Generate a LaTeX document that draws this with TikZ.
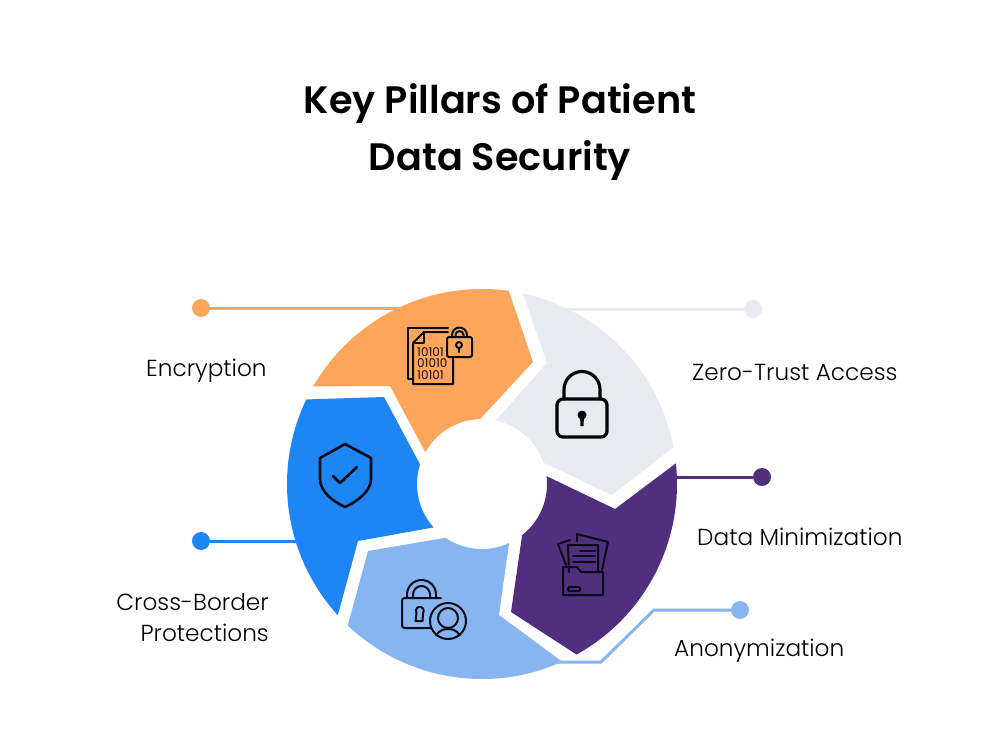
\documentclass[tikz,border=0pt]{standalone}
\usepackage{fontspec}
\usetikzlibrary{calc}
\setmainfont{Poppins Light}
\newfontfamily\titlefont{Poppins SemiBold}
\newfontfamily\iconfont{Poppins}
\definecolor{cOrange}{HTML}{FDA65B}
\definecolor{cBlue}{HTML}{1E85F5}
\definecolor{cSky}{HTML}{86B5EF}
\definecolor{cPurple}{HTML}{50307E}
\definecolor{cGrey}{HTML}{E8EAF1}
\definecolor{cInk}{HTML}{0A0A14}
\newcommand{\Rim}[1]{($(C)+(#1:195pt)$)}
\newcommand{\Hub}[1]{($(C)+(#1:65pt)$)}
\tikzset{
  lbl/.style={font=\fontsize{23.2}{26}\selectfont, text=black, inner sep=0pt},
  dotnode/.style={circle, minimum size=18pt, inner sep=0pt},
  leader/.style={line width=3pt},
  icon/.style={draw=cInk, line width=2pt, line join=round, line cap=round},
  bigicon/.style={draw=black, line width=3.2pt, line join=round, line cap=round},
  bits/.style={font=\fontsize{12}{12}\selectfont\iconfont, text=cInk, inner sep=0pt}
}
\begin{document}
\begin{tikzpicture}[x=1pt,y=-1pt]
\useasboundingbox (0,0) rectangle (1000,750);
\fill[white] (0,0) rectangle (1000,750);
\coordinate (C) at (482,484);
% title
\node[font=\fontsize{38.2}{57}\selectfont\titlefont, align=center, inner sep=0pt, text=black] (title) at (500,132) {Key Pillars of Patient\\Data Security};
% dots and anchors
\node[dotnode, fill=cOrange] (dotA) at (201,308) {};
\node[dotnode, fill=cGrey] (dotB) at (753,309) {};
\node[dotnode, fill=cPurple] (dotC) at (762,477) {};
\node[dotnode, fill=cSky] (dotD) at (740,610) {};
\node[dotnode, fill=cBlue] (dotE) at (201,541) {};
\coordinate (endA) at (400,308);
\coordinate (endB) at (560,309);
\coordinate (endC) at (670,477);
\coordinate (endD) at (555,662);
\coordinate (endE) at (300,541);
\draw[leader, cOrange] (dotA) -- (endA);
\draw[leader, cGrey] (dotB) -- (endB);
\draw[leader, cPurple] (dotC) -- (endC);
\draw[leader, cSky] (dotD) -- (654,610) -- (601,662) -- (endD);
\draw[leader, cBlue] (dotE) -- (endE);
% wedges
\fill[cOrange] \Rim{150.0} arc[start angle=150.0,end angle=82.1,radius=195pt]
  -- (533,362) -- \Hub{91.7} arc[start angle=91.7,end angle=150.7,radius=65pt] -- (390,386) -- cycle;
\fill[cBlue] \Rim{154.3} arc[start angle=154.3,end angle=222.3,radius=195pt]
  -- (358,541) -- \Hub{221.9} arc[start angle=221.9,end angle=162.4,radius=65pt] -- (384,397) -- cycle;
\fill[cSky] \Rim{226.5} arc[start angle=226.5,end angle=294.3,radius=195pt]
  -- (499,615) -- \Hub{294.6} arc[start angle=294.6,end angle=235.8,radius=65pt] -- (368,551) -- cycle;
\fill[cPurple] \Rim{6.1} arc[start angle=6.1,end angle=-61,radius=195pt]
  -- (511,612) -- \Hub{-51.9} arc[start angle=-51.9,end angle=7,radius=65pt] -- (615,509) -- cycle;
\fill[cGrey] \Rim{77.9} arc[start angle=77.9,end angle=10.9,radius=195pt]
  -- (612,495) -- \Hub{19.2} arc[start angle=19.2,end angle=77.8,radius=65pt] -- (547,363) -- cycle;
% labels
\node[lbl, anchor=west] (lEnc) at (146,371) {Encryption};
\node[lbl, anchor=west] (lZero) at (692,372) {Zero-Trust Access};
\node[lbl, anchor=west] (lMin) at (697,537) {Data Minimization};
\node[lbl, anchor=west] (lAno) at (674,651) {Anonymization};
\node[lbl, anchor=east, align=right, font=\fontsize{23.2}{31}\selectfont] (lCross) at (269,617) {Cross-Border\\Protections};
% orange icon: binary file with lock
\draw[icon] (448,328) -- (408,328) -- (408,379) -- (413,379);
\draw[icon] (448,332) -- (424,332) -- (413,343) -- (413,384) -- (453,384) -- (453,357);
\draw[icon] (424,332) -- (424,343) -- (413,343);
\draw[icon, rounded corners=2pt] (447,337) rectangle (472,357);
\draw[icon] (452,337) -- (452,335) arc[start angle=180,end angle=0,radius=7.5pt] -- (467,337);
\draw[icon] (455.5,337) -- (455.5,335) arc[start angle=180,end angle=0,radius=4pt] -- (463.5,337);
\draw[icon] (459,345) circle[radius=3pt];
\draw[icon] (459,348) -- (459,352);
\node[bits, anchor=west] (bitsA) at (417,352) {10101};
\node[bits, anchor=west] (bitsB) at (417,363.5) {01010};
\node[bits, anchor=west] (bitsC) at (417,375) {10101};
% grey icon: padlock
\draw[bigicon, rounded corners=6pt] (557,399) rectangle (607,437);
\draw[bigicon] (564,399) -- (564,389.5) arc[start angle=180,end angle=0,radius=18pt] -- (600,399);
\fill[black] (582,415) circle[radius=4.5pt];
\fill[black] (580,416) -- (584,416) -- (583.5,426) -- (580.5,426) -- cycle;
% blue icon: shield
\draw[icon, line width=2.6pt] (345,444) -- (371,458) -- (371,479) .. controls (371,491) and (358,501) .. (345,507) .. controls (332,501) and (320,491) .. (320,479) -- (320,458) -- cycle;
\draw[icon, line width=2.6pt] (333,476) -- (340,483) -- (357,467);
% sky icon: lock and person
\draw[icon] (441,598) -- (405,598) .. controls (403,598) and (402,599) .. (402,601) -- (402,625) .. controls (402,627) and (403,628) .. (405,628) -- (431,628);
\draw[icon] (407,598) -- (407,594.5) arc[start angle=180,end angle=0,radius=14.5pt] -- (436,598);
\draw[icon] (413,598) -- (413,594.5) arc[start angle=180,end angle=0,radius=8.5pt] -- (430,598);
\draw[icon] (416.5,613) arc[start angle=215,end angle=-35,radius=4pt] -- (422.5,621) -- (415.5,621) -- cycle;
\draw[icon] (448,621) circle[radius=18pt];
\draw[icon] (448,618) circle[radius=10pt];
\draw[icon] (436,635) .. controls (440,630) and (444,629) .. (448,629) .. controls (452,629) and (456,630) .. (460,635);
% purple icon: folder with papers
\draw[icon] (566,565) -- (558,544) -- (570,540);
\draw[icon] (577,541) -- (577,534) -- (608,542) -- (602,570);
\draw[icon] (569,572) -- (568,545) -- (598,545) -- (598,571);
\draw[icon] (580,551) -- (595,551);
\draw[icon] (573,556) -- (595,556);
\draw[icon] (573,562) -- (595,562);
\draw[icon] (563,567) -- (577,567) -- (581,572) -- (603,572) -- (603,595) -- (563,595) -- cycle;
\draw[icon, rounded corners=1pt] (568,587) rectangle (580,591);
\end{tikzpicture}
\end{document}
